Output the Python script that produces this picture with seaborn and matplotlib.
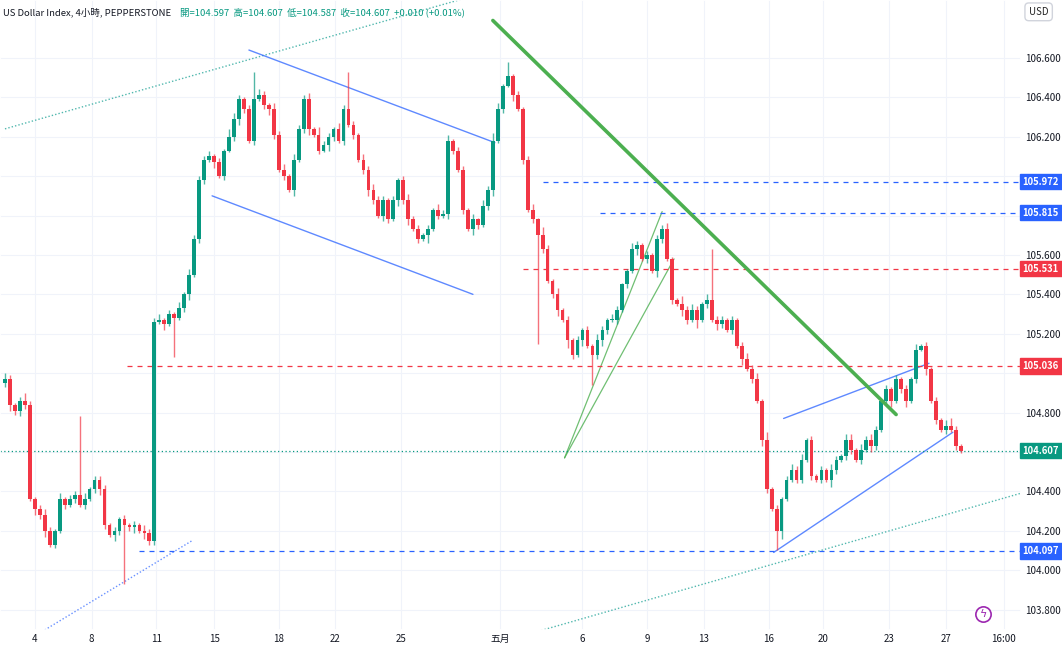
import numpy as np
import pandas as pd
import matplotlib
matplotlib.use("Agg")
import matplotlib.pyplot as plt
from matplotlib import font_manager
import seaborn as sns

# 4小時 收盤價 (每根K線)
closes = [
    104.97, 104.84, 104.81, 104.86, 104.84, 104.36, 104.31, 104.28, 104.20, 104.13,
    104.20, 104.36, 104.33, 104.36, 104.38, 104.33, 104.36, 104.41, 104.46, 104.41,
    104.23, 104.18, 104.20, 104.26, 104.23, 104.22, 104.23, 104.20, 104.19, 104.15,
    105.26, 105.27, 105.25, 105.30, 105.28, 105.33, 105.40, 105.50, 105.68, 105.98,
    106.08, 106.10, 106.07, 106.00, 106.13, 106.20, 106.29, 106.39, 106.34, 106.18,
    106.39, 106.41, 106.36, 106.34, 106.21, 106.03, 106.00, 105.93, 106.08, 106.24,
    106.39, 106.24, 106.21, 106.13, 106.16, 106.20, 106.24, 106.18, 106.34, 106.26,
    106.21, 106.08, 106.03, 105.93, 105.88, 105.80, 105.88, 105.78, 105.88, 105.98,
    105.88, 105.78, 105.73, 105.68, 105.70, 105.73, 105.83, 105.80, 105.81, 106.18,
    106.13, 106.03, 105.83, 105.73, 105.78, 105.75, 105.85, 105.93, 106.18, 106.34,
    106.46, 106.51, 106.41, 106.34, 106.08, 105.83, 105.78, 105.70, 105.63, 105.47,
    105.40, 105.32, 105.27, 105.17, 105.09, 105.17, 105.22, 105.14, 105.09, 105.17,
    105.22, 105.27, 105.27, 105.32, 105.45, 105.52, 105.63, 105.65, 105.58, 105.60,
    105.52, 105.68, 105.73, 105.58, 105.37, 105.35, 105.32, 105.27, 105.32, 105.27,
    105.35, 105.37, 105.27, 105.25, 105.27, 105.22, 105.27, 105.14, 105.07, 105.02,
    104.97, 104.86, 104.66, 104.41, 104.31, 104.20, 104.36, 104.46, 104.51, 104.46,
    104.56, 104.66, 104.48, 104.46, 104.51, 104.46, 104.51, 104.56, 104.58, 104.66,
    104.61, 104.56, 104.61, 104.66, 104.63, 104.71, 104.86, 104.92, 104.86, 104.97,
    104.92, 104.86, 104.97, 105.12, 105.14, 105.02, 104.86, 104.76, 104.71, 104.73,
    104.71, 104.63, 104.607,
]
first_open = 104.95

# 影線長度 (單位 0.01)
upper_wick = ("3212421232 1312253122 2121212132 2312131322 2312143212"
              "8321323132 2314221322 2132322121 2322121323 1221313243"
              "1212123142 1312121213 2132113212 1223114232 1312212123"
              "2314121232 3121213213 3132321212 1213121213 4212111")
lower_wick = ("2323213231 2121212123 2132123132 2131212312 2131212321"
              "2123212131 2312132121 2123213213 2312141213 2121321231"
              "2131212121 2314213112 3212121312 1321213214 1213212131"
              "2132124112 2121214212 2121321231 2312131212 1213211")
upper_spikes = {15: 0.40, 50: 0.14, 69: 0.19, 101: 0.07, 142: 0.26}
lower_spikes = {24: 0.30, 34: 0.20, 107: 0.55, 118: 0.15, 155: 0.10}

# 水平價位線
level_prices = [105.972, 105.815, 105.531, 105.036, 104.097]
level_starts = [108, 119.6, 104, 24.6, 27]
level_colors = ["#2962ff", "#2962ff", "#f23645", "#f23645", "#2962ff"]
last_price = 104.607

y_ticks = [103.8, 104.0, 104.2, 104.4, 104.6, 104.8, 105.0, 105.2, 105.4, 105.6, 105.8, 106.0, 106.2, 106.4, 106.6]
y_tick_labels = ["103.800", "104.000", "104.200", "104.400", "", "104.800", "", "105.200",
                 "105.400", "105.600", "", "", "106.200", "106.400", "106.600"]
x_tick_pos = [6, 17.4, 30.4, 42, 55, 66.2, 79.6, 99.4, 116, 129, 140.4, 153.4, 164.4, 177.6, 189, 200.6]
x_tick_labels = ["4", "8", "11", "15", "18", "22", "25", "五月", "6", "9", "13", "16", "20", "23", "27", "16:00"]

up_w = [int(c) / 100 for c in upper_wick.replace(" ", "")][:len(closes)]
lo_w = [int(c) / 100 for c in lower_wick.replace(" ", "")][:len(closes)]
df = pd.DataFrame({"close": closes})
df["open"] = [first_open] + closes[:-1]
df["up"] = up_w + [0.01] * (len(df) - len(up_w))
df["lo"] = lo_w + [0.01] * (len(df) - len(lo_w))
for k, v in upper_spikes.items():
    df.loc[k, "up"] = v
for k, v in lower_spikes.items():
    df.loc[k, "lo"] = v
df["high"] = df[["open", "close"]].max(axis=1) + df["up"]
df["low"] = df[["open", "close"]].min(axis=1) - df["lo"]
df["x"] = np.arange(len(df))

sns.set_theme(style="whitegrid", rc={"grid.color": "#f0f3fa", "grid.linewidth": 0.8,
                                     "axes.edgecolor": "white"})
cjk = "DejaVu Sans"
for name in ["Noto Sans CJK TC", "Noto Sans CJK JP", "Noto Sans CJK SC"]:
    try:
        font_manager.findfont(name, fallback_to_default=False)
        cjk = name
        break
    except Exception:
        pass
plt.rcParams["font.family"] = "sans-serif"
plt.rcParams["font.sans-serif"] = [cjk, "DejaVu Sans"]

UP, DOWN = "#089981", "#f23645"
fig = plt.figure(figsize=(10.62, 6.57), dpi=100)
ax = fig.add_axes([0.0, 0.041, 0.961, 0.959])

colors = [UP if c >= o else DOWN for o, c in zip(df["open"], df["close"])]
ax.vlines(df["x"], df["low"], df["high"], colors=colors, linewidth=1, alpha=0.7, zorder=3)
body = (df["close"] - df["open"]).abs().clip(lower=0.006)
ax.bar(df["x"], body, bottom=df[["open", "close"]].min(axis=1), width=0.75,
       color=colors, linewidth=0, zorder=4)

# 趨勢線
ax.plot([98, 179], [106.79, 104.79], color="#4caf50", lw=2.6, zorder=5)
ax.plot([0, 92], [106.24, 106.90], color="#26a69a", lw=1, ls=(0, (1, 1.5)), alpha=0.8)
ax.plot([103, 204], [103.66, 104.39], color="#26a69a", lw=1, ls=(0, (1, 1.5)), alpha=0.8)
ax.plot([5.6, 37.6], [103.66, 104.15], color="#2962ff", lw=1, ls=(0, (1, 1.5)), alpha=0.7)
ax.plot([49, 98.4], [106.64, 106.17], color="#2962ff", lw=1, alpha=0.75)
ax.plot([41.6, 94], [105.90, 105.40], color="#2962ff", lw=1, alpha=0.75)
ax.plot([112.4, 132], [104.57, 105.82], color="#4caf50", lw=0.9, alpha=0.8)
ax.plot([112.4, 134.4], [104.57, 105.58], color="#4caf50", lw=0.9, alpha=0.8)
ax.plot([156.4, 185.6], [104.77, 105.05], color="#2962ff", lw=1, alpha=0.75)
ax.plot([154.4, 190.4], [104.09, 104.70], color="#2962ff", lw=1, alpha=0.75)

for p, s, c in zip(level_prices, level_starts, level_colors):
    ax.hlines(p, s, 205, colors=c, lw=0.9, ls=(0, (4, 4)), zorder=2)
ax.axhline(last_price, color="#089981", lw=0.9, ls=(0, (1, 2)), zorder=2)

ax.set_xlim(-1, 204)
ax.set_ylim(103.696, 106.894)
ax.yaxis.tick_right()
ax.set_yticks(y_ticks)
ax.set_yticklabels(y_tick_labels)
ax.set_xticks(x_tick_pos)
ax.set_xticklabels(x_tick_labels)
ax.tick_params(axis="both", labelsize=7, colors="#131722", length=0, pad=3)
ax.grid(True, color="#f0f3fa")

# 右側價格標籤
for p, c in zip(level_prices + [last_price], level_colors + [UP]):
    ax.text(1.002, p, f"{p:.3f}", transform=ax.get_yaxis_transform(), color="white",
            fontsize=6.8, va="center", ha="left", fontweight="bold",
            bbox=dict(boxstyle="square,pad=0.3", fc=c, ec=c), zorder=10)
fig.text(0.978, 0.982, "USD", fontsize=7, ha="center", va="center",
         bbox=dict(boxstyle="round,pad=0.4", fc="white", ec="#d1d4dc"))

title = ax.text(0.003, 0.988, "US Dollar Index, 4小時, PEPPERSTONE", transform=ax.transAxes,
                fontsize=6.8, color="#131722", va="top")
ax.annotate("開=104.597  高=104.607  低=104.587  收=104.607  +0.010 (+0.01%)",
            xy=(1, 1), xycoords=title, xytext=(6, 0), textcoords="offset points",
            fontsize=6.8, color="#089981", va="top", ha="left")
ax.plot([196.5], [103.78], marker="o", ms=11, mfc="white", mec="#9c27b0", mew=1.2, zorder=6)
ax.text(196.5, 103.78, "ϟ", color="#9c27b0", fontsize=8, ha="center", va="center", zorder=7,
        fontfamily="DejaVu Sans")

fig.savefig("out.png", dpi=100)
